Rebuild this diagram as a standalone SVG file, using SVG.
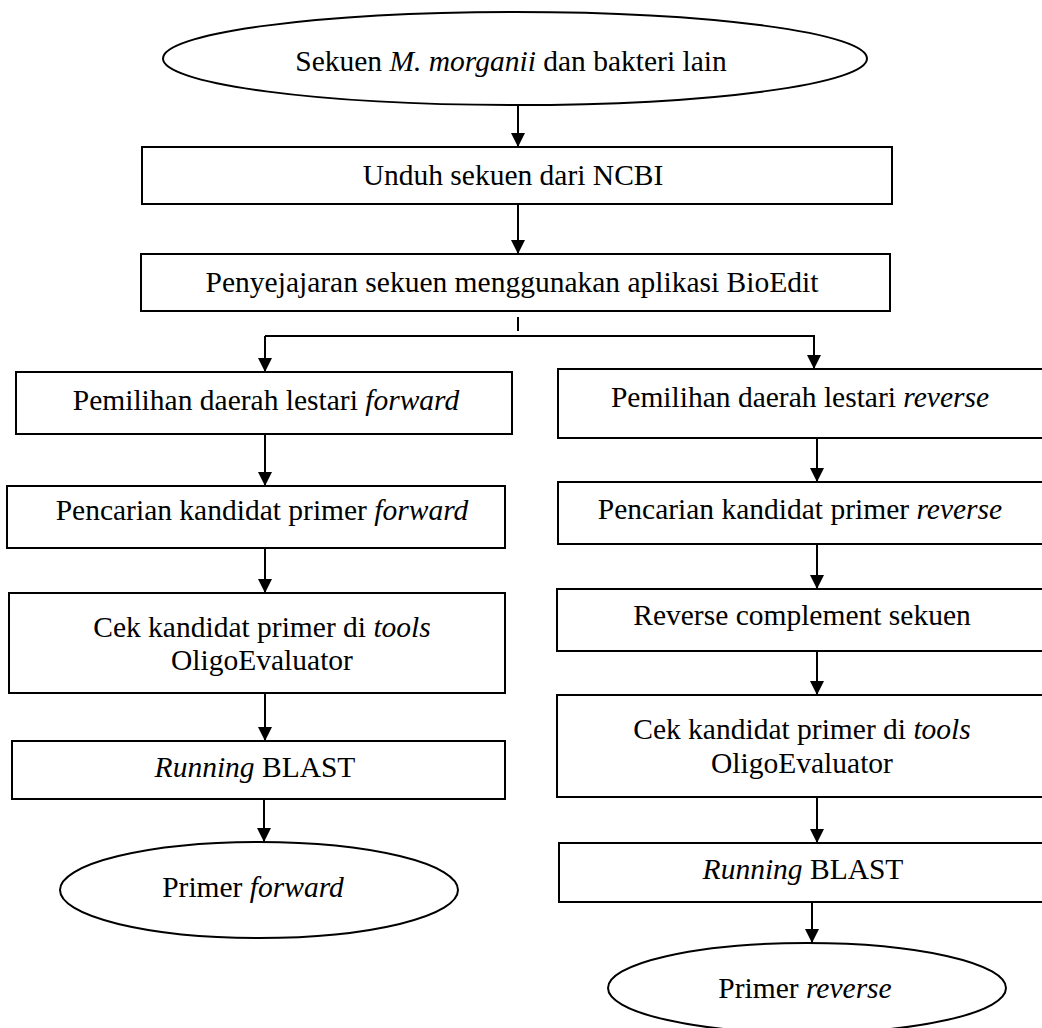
<svg xmlns="http://www.w3.org/2000/svg" width="1042" height="1028" viewBox="0 0 1042 1028">
<style>
  .shape { fill: #ffffff; stroke: #000000; stroke-width: 2; }
  .conn { fill: none; stroke: #000000; stroke-width: 2; }
  .lbl { font-family: "Liberation Serif", "Times New Roman", serif; font-size: 29.5px; fill: #000000; text-anchor: middle; }
  .it { font-style: italic; }
</style>
<defs>
  <marker id="ah" viewBox="0 0 14 14" refX="14" refY="7" markerWidth="14" markerHeight="14" orient="auto" markerUnits="userSpaceOnUse">
    <path d="M0,0 L14,7 L0,14 z" fill="#000000"/>
  </marker>
</defs>
<rect width="1042" height="1028" fill="#ffffff"/>

<g id="connectors">
  <path class="conn" d="M518,105 V147" marker-end="url(#ah)"/>
  <path class="conn" d="M518,204 V254" marker-end="url(#ah)"/>
  <path class="conn" d="M518,317 V331"/>
  <path class="conn" d="M265,336 H814 V369" marker-end="url(#ah)"/>
  <path class="conn" d="M265,336 V372" marker-end="url(#ah)"/>
  <path class="conn" d="M265,434 V486" marker-end="url(#ah)"/>
  <path class="conn" d="M265,548 V593" marker-end="url(#ah)"/>
  <path class="conn" d="M265,693 V741" marker-end="url(#ah)"/>
  <path class="conn" d="M264,799 V842" marker-end="url(#ah)"/>
  <path class="conn" d="M817,438 V482" marker-end="url(#ah)"/>
  <path class="conn" d="M817,544 V589" marker-end="url(#ah)"/>
  <path class="conn" d="M817,651 V695" marker-end="url(#ah)"/>
  <path class="conn" d="M817,797 V843" marker-end="url(#ah)"/>
  <path class="conn" d="M812,902 V943" marker-end="url(#ah)"/>
</g>

<g id="start">
  <ellipse class="shape" cx="515" cy="58.5" rx="352" ry="46.5"/>
  <text class="lbl" x="511" y="71">Sekuen <tspan class="it">M. morganii</tspan> dan bakteri lain</text>
</g>

<g id="unduh">
  <rect class="shape" x="142" y="147" width="750" height="57"/>
  <text class="lbl" x="513" y="185">Unduh sekuen dari NCBI</text>
</g>

<g id="penyejajaran">
  <rect class="shape" x="141" y="254" width="749" height="57"/>
  <text class="lbl" x="512" y="292">Penyejajaran sekuen menggunakan aplikasi BioEdit</text>
</g>

<g id="pemilihan-forward">
  <rect class="shape" x="16" y="372" width="496" height="62"/>
  <text class="lbl" x="266" y="410">Pemilihan daerah lestari <tspan class="it">forward</tspan></text>
</g>

<g id="pencarian-forward">
  <rect class="shape" x="7" y="486" width="498" height="62"/>
  <text class="lbl" x="262" y="520">Pencarian kandidat primer <tspan class="it">forward</tspan></text>
</g>

<g id="cek-forward">
  <rect class="shape" x="9" y="593" width="496" height="100"/>
  <text class="lbl" x="262" y="637">Cek kandidat primer di <tspan class="it">tools</tspan></text>
  <text class="lbl" x="262" y="670">OligoEvaluator</text>
</g>

<g id="blast-forward">
  <rect class="shape" x="12" y="741" width="493" height="58"/>
  <text class="lbl" x="255" y="777"><tspan class="it">Running</tspan> BLAST</text>
</g>

<g id="primer-forward">
  <ellipse class="shape" cx="259" cy="890" rx="199" ry="48"/>
  <text class="lbl" x="253" y="897">Primer <tspan class="it">forward</tspan></text>
</g>

<g id="pemilihan-reverse">
  <rect class="shape" x="558" y="369" width="490" height="69"/>
  <text class="lbl" x="800" y="407">Pemilihan daerah lestari <tspan class="it">reverse</tspan></text>
</g>

<g id="pencarian-reverse">
  <rect class="shape" x="558" y="482" width="490" height="62"/>
  <text class="lbl" x="800" y="519">Pencarian kandidat primer <tspan class="it">reverse</tspan></text>
</g>

<g id="reverse-complement">
  <rect class="shape" x="557" y="589" width="491" height="62"/>
  <text class="lbl" x="802" y="625">Reverse complement sekuen</text>
</g>

<g id="cek-reverse">
  <rect class="shape" x="557" y="695" width="491" height="102"/>
  <text class="lbl" x="802" y="739">Cek kandidat primer di <tspan class="it">tools</tspan></text>
  <text class="lbl" x="802" y="773">OligoEvaluator</text>
</g>

<g id="blast-reverse">
  <rect class="shape" x="559" y="843" width="489" height="59"/>
  <text class="lbl" x="803" y="879"><tspan class="it">Running</tspan> BLAST</text>
</g>

<g id="primer-reverse">
  <ellipse class="shape" cx="807" cy="988" rx="199" ry="45"/>
  <text class="lbl" x="805" y="998">Primer <tspan class="it">reverse</tspan></text>
</g>
</svg>
